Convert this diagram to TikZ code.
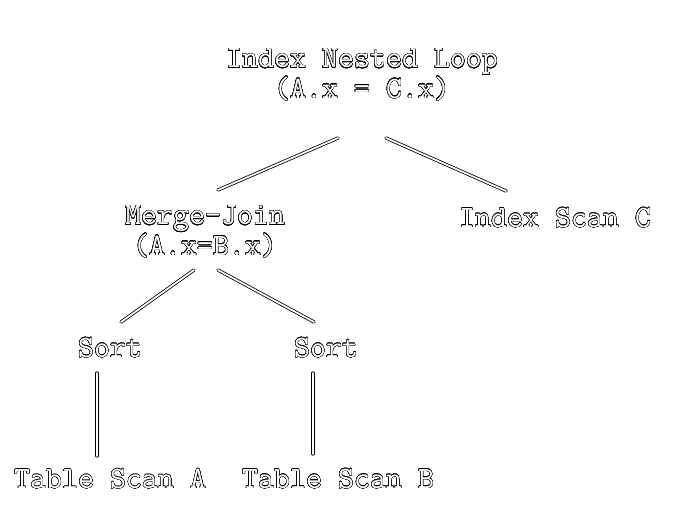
\documentclass[tikz,border=0pt]{standalone}
\usepackage{fontspec}
\usepackage{contour}
\usetikzlibrary{calc}
\contourlength{0.27pt}
\contournumber{24}
\newcommand\hollowfont{\ttfamily\fontsize{23.3}{21}\selectfont}
\newcommand\hl[1]{\contour{black}{#1}}
\begin{document}
\begin{tikzpicture}[
			x=0.75pt, y=-0.75pt,
			op/.style={inner sep=0pt, align=center, text=white, font=\hollowfont},
			link/.style={draw, double, double distance=1.3pt, line width=0.6pt, line cap=round}
			]
			\useasboundingbox (0,0) rectangle (678,514);
			
			\node[op] (inl) at (362,75) {\hl{Index Nested Loop}\\\hl{(A.x = C.x)}};
			\node[op] (mj) at (205,232) {\hl{Merge-Join}\\\hl{(A.x=B.x)}};
			\node[op] (isc) at (555,218) {\hl{Index Scan C}};
			\node[op] (sortA) at (110,348) {\hl{Sort}};
			\node[op] (sortB) at (326,348) {\hl{Sort}};
			\node[op] (tsA) at (110,479) {\hl{Table Scan A}};
			\node[op] (tsB) at (338,479) {\hl{Table Scan B}};
			
			\draw[link] ($(inl)+(-24,63)$) -- ($(mj)+(13,-42)$);
			\draw[link] ($(inl)+(24,63)$) -- ($(isc)+(-49,-27)$);
			\draw[link] ($(mj)+(-11,38)$) -- ($(sortA)+(11,-26)$);
			\draw[link] ($(mj)+(13,38)$) -- ($(sortB)+(-12,-26)$);
			\draw[link] ($(sortA)+(-13,25)$) -- ($(tsA)+(-13,-23)$);
			\draw[link] ($(sortB)+(-13,25)$) -- ($(tsB)+(-25,-25)$);
		\end{tikzpicture}
\end{document}
